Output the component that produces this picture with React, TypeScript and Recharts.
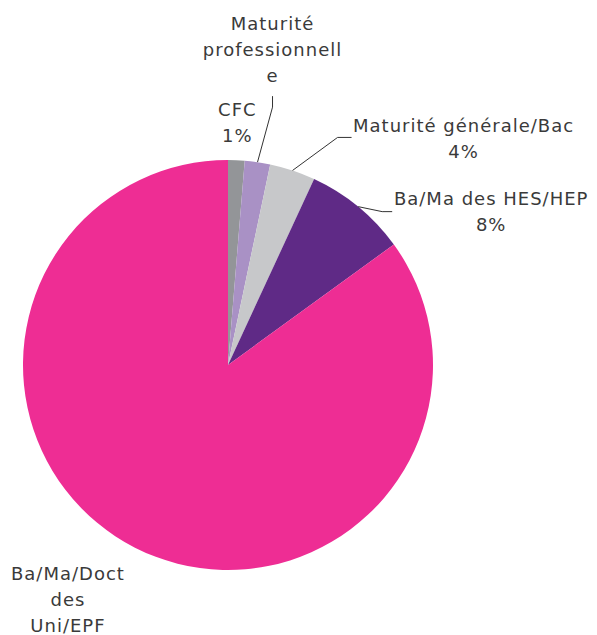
import { PieChart, Pie, Cell } from "recharts";

const categories = [
  "CFC",
  "Maturité professionnelle",
  "Maturité générale/Bac",
  "Ba/Ma des HES/HEP",
  "Ba/Ma/Doct des Uni/EPF",
];
const shares = [1.3, 2.0, 3.6, 8.1, 85.0];
// what the chart actually prints for each slice
const labelLines = [
  ["CFC", "1%"],
  ["Maturité", "professionnell", "e"],
  ["Maturité générale/Bac", "4%"],
  ["Ba/Ma des HES/HEP", "8%"],
  ["Ba/Ma/Doct", "des", "Uni/EPF"],
];

const colors = ["#939598", "#a991c5", "#c7c8ca", "#5f2a86", "#ee2d94"];

// label placement relative to the slice's outer edge point
const labelPos = [
  { dx: 1, dy: -44, leader: null },
  { dx: 15, dy: -132, leader: [[15, -55], [15, -66]] },
  { dx: 171, dy: -38, leader: [[45, -33], [59, -33]] },
  { dx: 133, dy: -2, leader: [[24, 5], [34, 5]] },
  { dx: -67, dy: 32, leader: null },
];

const data = categories.map((name, i) => ({ name, value: shares[i] }));

const RAD = Math.PI / 180;

// eslint-disable-next-line @typescript-eslint/no-explicit-any
const renderLabel = (props: any) => {
  const { cx, cy, midAngle, outerRadius, index } = props;
  const ex = cx + outerRadius * Math.cos(-midAngle * RAD);
  const ey = cy + outerRadius * Math.sin(-midAngle * RAD);
  const pos = labelPos[index];
  const lines = labelLines[index];
  return (
    <g key={`lbl-${index}`}>
      {pos.leader && (
        <polyline
          points={[[0, 0], ...pos.leader].map(([x, y]) => `${ex + x},${ey + y}`).join(" ")}
          fill="none"
          stroke="#333"
          strokeWidth={1}
        />
      )}
      <text
        x={ex + pos.dx}
        y={ey + pos.dy}
        textAnchor="middle"
        fill="#3a3a3a"
        fontSize={18}
        letterSpacing={1}
        fontFamily="DejaVu Sans"
      >
        {lines.map((t, k) => (
          <tspan key={k} x={ex + pos.dx} dy={k === 0 ? 0 : 26}>
            {t}
          </tspan>
        ))}
      </text>
    </g>
  );
};

export default function App() {
  return (
    <div style={{ position: "absolute", left: 0, top: 0, background: "#fff" }}>
      <PieChart width={597} height={635} margin={{ top: 0, right: 0, bottom: 0, left: 0 }}>
        <Pie
          data={data}
          dataKey="value"
          nameKey="name"
          cx={228}
          cy={365}
          outerRadius={205}
          startAngle={90}
          endAngle={-270}
          stroke="none"
          label={renderLabel}
          labelLine={false}
          isAnimationActive={false}
        >
          {data.map((d, i) => (
            <Cell key={d.name} fill={colors[i]} />
          ))}
        </Pie>
      </PieChart>
    </div>
  );
}
